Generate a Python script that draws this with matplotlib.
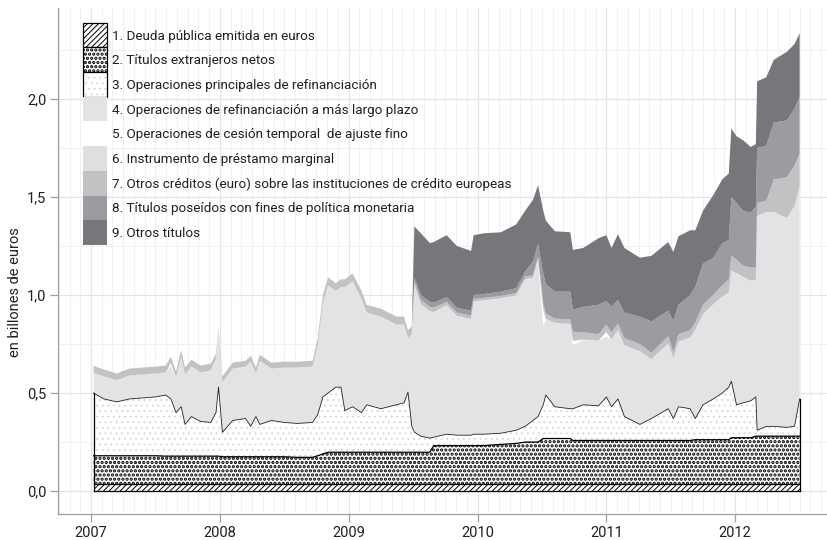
import numpy as np
import matplotlib
matplotlib.use("Agg")
import matplotlib.pyplot as plt
from matplotlib.patches import Rectangle
from matplotlib import font_manager as fm
from matplotlib.ticker import FixedLocator, FuncFormatter

# ---------------- data (billones de euros) ----------------
dates = [
    2007.02, 2007.10, 2007.20, 2007.30, 2007.40, 2007.50, 2007.58, 2007.62, 2007.66, 2007.70,
    2007.73, 2007.78, 2007.85, 2007.93, 2007.97, 2007.99, 2008.02, 2008.10, 2008.20, 2008.24,
    2008.28, 2008.31, 2008.40, 2008.50, 2008.60, 2008.72, 2008.76, 2008.80, 2008.84, 2008.90,
    2008.94, 2008.97, 2009.03, 2009.10, 2009.14, 2009.25, 2009.37, 2009.43, 2009.46, 2009.49,
    2009.51, 2009.56, 2009.63, 2009.66, 2009.76, 2009.84, 2009.95, 2009.97, 2010.05, 2010.18,
    2010.30, 2010.37, 2010.43, 2010.47, 2010.51, 2010.53, 2010.60, 2010.72, 2010.74, 2010.82,
    2010.94, 2011.00, 2011.04, 2011.09, 2011.14, 2011.26, 2011.35, 2011.48, 2011.52, 2011.56,
    2011.65, 2011.69, 2011.75, 2011.83, 2011.90, 2011.95, 2011.97, 2012.01, 2012.06, 2012.12,
    2012.16, 2012.17, 2012.24, 2012.30, 2012.40, 2012.46, 2012.50]

deuda_publica = [
    0.035, 0.035, 0.035, 0.035, 0.035, 0.035, 0.035, 0.035, 0.035, 0.035,
    0.035, 0.035, 0.035, 0.035, 0.035, 0.035, 0.035, 0.035, 0.035, 0.035,
    0.035, 0.035, 0.035, 0.035, 0.035, 0.035, 0.035, 0.035, 0.035, 0.035,
    0.035, 0.035, 0.035, 0.035, 0.035, 0.035, 0.035, 0.035, 0.035, 0.035,
    0.035, 0.035, 0.035, 0.035, 0.035, 0.035, 0.035, 0.035, 0.035, 0.035,
    0.035, 0.035, 0.035, 0.035, 0.035, 0.035, 0.035, 0.035, 0.035, 0.035,
    0.035, 0.035, 0.035, 0.035, 0.035, 0.035, 0.035, 0.035, 0.035, 0.035,
    0.035, 0.035, 0.035, 0.035, 0.035, 0.035, 0.035, 0.035, 0.035, 0.035,
    0.035, 0.035, 0.035, 0.035, 0.035, 0.035, 0.035]

titulos_extranjeros = [
    0.145, 0.145, 0.145, 0.145, 0.145, 0.145, 0.143, 0.143, 0.143, 0.143,
    0.143, 0.143, 0.143, 0.143, 0.143, 0.143, 0.140, 0.140, 0.140, 0.140,
    0.140, 0.140, 0.140, 0.140, 0.137, 0.137, 0.145, 0.155, 0.163, 0.163,
    0.163, 0.163, 0.163, 0.163, 0.163, 0.163, 0.163, 0.163, 0.163, 0.163,
    0.163, 0.163, 0.163, 0.197, 0.197, 0.197, 0.197, 0.197, 0.197, 0.203,
    0.208, 0.215, 0.215, 0.215, 0.233, 0.233, 0.233, 0.233, 0.223, 0.223,
    0.223, 0.223, 0.223, 0.223, 0.223, 0.223, 0.223, 0.223, 0.223, 0.223,
    0.223, 0.227, 0.227, 0.227, 0.227, 0.227, 0.237, 0.237, 0.237, 0.237,
    0.245, 0.245, 0.245, 0.245, 0.245, 0.245, 0.245]

op_principales = [
    0.320, 0.290, 0.275, 0.290, 0.295, 0.300, 0.312, 0.292, 0.222, 0.252,
    0.162, 0.202, 0.177, 0.172, 0.222, 0.352, 0.125, 0.185, 0.195, 0.155,
    0.205, 0.165, 0.185, 0.175, 0.173, 0.178, 0.210, 0.290, 0.302, 0.332,
    0.332, 0.212, 0.232, 0.202, 0.242, 0.222, 0.242, 0.252, 0.307, 0.132,
    0.102, 0.082, 0.072, 0.043, 0.058, 0.053, 0.053, 0.058, 0.058, 0.057,
    0.067, 0.080, 0.110, 0.130, 0.172, 0.222, 0.162, 0.152, 0.162, 0.182,
    0.177, 0.222, 0.172, 0.212, 0.122, 0.082, 0.112, 0.162, 0.112, 0.172,
    0.162, 0.108, 0.178, 0.208, 0.238, 0.268, 0.288, 0.168, 0.178, 0.188,
    0.200, 0.030, 0.050, 0.050, 0.045, 0.050, 0.190]

op_largo_plazo = [
    0.100, 0.112, 0.107, 0.117, 0.117, 0.117, 0.112, 0.170, 0.177, 0.252,
    0.252, 0.252, 0.247, 0.262, 0.272, 0.285, 0.252, 0.262, 0.262, 0.327,
    0.217, 0.322, 0.262, 0.277, 0.282, 0.282, 0.352, 0.477, 0.547, 0.487,
    0.507, 0.627, 0.637, 0.577, 0.467, 0.467, 0.407, 0.397, 0.272, 0.467,
    0.750, 0.670, 0.645, 0.635, 0.655, 0.605, 0.590, 0.675, 0.680, 0.685,
    0.685, 0.747, 0.725, 0.800, 0.400, 0.385, 0.425, 0.430, 0.325, 0.330,
    0.330, 0.310, 0.340, 0.350, 0.360, 0.370, 0.300, 0.330, 0.305, 0.330,
    0.360, 0.450, 0.460, 0.480, 0.490, 0.480, 0.560, 0.670, 0.640, 0.610,
    0.595, 1.090, 1.090, 1.090, 1.065, 1.120, 1.080]

ajuste_fino = [
    0.000, 0.000, 0.000, 0.000, 0.000, 0.000, 0.000, 0.012, 0.000, 0.000,
    0.000, 0.000, 0.000, 0.000, 0.000, 0.000, 0.000, 0.000, 0.000, 0.000,
    0.000, 0.000, 0.000, 0.000, 0.000, 0.000, 0.000, 0.000, 0.000, 0.000,
    0.000, 0.000, 0.000, 0.000, 0.000, 0.000, 0.000, 0.000, 0.000, 0.000,
    0.000, 0.000, 0.000, 0.000, 0.000, 0.000, 0.000, 0.000, 0.000, 0.000,
    0.000, 0.000, 0.000, 0.000, 0.085, 0.000, 0.000, 0.000, 0.020, 0.000,
    0.000, 0.020, 0.000, 0.000, 0.000, 0.000, 0.000, 0.000, 0.000, 0.000,
    0.000, 0.000, 0.000, 0.000, 0.000, 0.000, 0.000, 0.000, 0.000, 0.000,
    0.000, 0.000, 0.000, 0.000, 0.000, 0.000, 0.000]

prestamo_marginal = [
    0.003, 0.003, 0.003, 0.003, 0.003, 0.003, 0.003, 0.003, 0.003, 0.003,
    0.003, 0.003, 0.003, 0.003, 0.003, 0.003, 0.003, 0.003, 0.003, 0.003,
    0.003, 0.003, 0.003, 0.003, 0.003, 0.003, 0.003, 0.003, 0.003, 0.003,
    0.003, 0.003, 0.003, 0.003, 0.003, 0.003, 0.003, 0.003, 0.003, 0.003,
    0.003, 0.003, 0.003, 0.003, 0.003, 0.003, 0.003, 0.003, 0.003, 0.003,
    0.003, 0.003, 0.003, 0.003, 0.003, 0.003, 0.003, 0.003, 0.003, 0.003,
    0.003, 0.003, 0.003, 0.003, 0.003, 0.003, 0.003, 0.003, 0.003, 0.003,
    0.003, 0.003, 0.003, 0.003, 0.003, 0.003, 0.003, 0.003, 0.003, 0.003,
    0.003, 0.003, 0.003, 0.003, 0.003, 0.003, 0.003]

otros_creditos = [
    0.035, 0.035, 0.035, 0.035, 0.035, 0.035, 0.035, 0.030, 0.030, 0.035,
    0.035, 0.035, 0.035, 0.035, 0.025, 0.012, 0.030, 0.030, 0.030, 0.030,
    0.030, 0.030, 0.030, 0.030, 0.030, 0.030, 0.035, 0.040, 0.040, 0.040,
    0.040, 0.040, 0.040, 0.040, 0.040, 0.040, 0.040, 0.040, 0.040, 0.040,
    0.017, 0.022, 0.022, 0.022, 0.017, 0.017, 0.017, 0.012, 0.012, 0.012,
    0.012, 0.015, 0.012, 0.012, 0.032, 0.027, 0.022, 0.022, 0.045, 0.037,
    0.032, 0.037, 0.037, 0.032, 0.037, 0.037, 0.032, 0.037, 0.032, 0.037,
    0.037, 0.037, 0.047, 0.047, 0.057, 0.067, 0.077, 0.067, 0.057, 0.067,
    0.062, 0.067, 0.057, 0.167, 0.207, 0.207, 0.167]

titulos_politica_monetaria = [
    0.000, 0.000, 0.000, 0.000, 0.000, 0.000, 0.000, 0.000, 0.000, 0.000,
    0.000, 0.000, 0.000, 0.000, 0.000, 0.000, 0.000, 0.000, 0.000, 0.000,
    0.000, 0.000, 0.000, 0.000, 0.000, 0.000, 0.000, 0.000, 0.000, 0.000,
    0.000, 0.000, 0.000, 0.000, 0.000, 0.000, 0.000, 0.000, 0.000, 0.000,
    0.020, 0.025, 0.026, 0.025, 0.025, 0.025, 0.025, 0.020, 0.020, 0.022,
    0.025, 0.025, 0.070, 0.065, 0.150, 0.150, 0.137, 0.142, 0.112, 0.130,
    0.150, 0.120, 0.130, 0.120, 0.130, 0.140, 0.160, 0.130, 0.160, 0.150,
    0.180, 0.180, 0.210, 0.190, 0.215, 0.200, 0.300, 0.290, 0.280, 0.280,
    0.310, 0.280, 0.280, 0.290, 0.290, 0.290, 0.290]

otros_titulos = [
    0.000, 0.000, 0.000, 0.000, 0.000, 0.000, 0.000, 0.000, 0.000, 0.000,
    0.000, 0.000, 0.000, 0.000, 0.000, 0.000, 0.000, 0.000, 0.000, 0.000,
    0.000, 0.000, 0.000, 0.000, 0.000, 0.000, 0.000, 0.000, 0.000, 0.000,
    0.000, 0.000, 0.000, 0.000, 0.000, 0.000, 0.000, 0.000, 0.000, 0.000,
    0.260, 0.315, 0.299, 0.310, 0.315, 0.315, 0.305, 0.305, 0.310, 0.303,
    0.325, 0.310, 0.315, 0.300, 0.320, 0.325, 0.308, 0.303, 0.305, 0.300,
    0.340, 0.335, 0.300, 0.335, 0.330, 0.300, 0.335, 0.350, 0.350, 0.350,
    0.330, 0.290, 0.270, 0.320, 0.325, 0.340, 0.350, 0.340, 0.360, 0.335,
    0.320, 0.340, 0.350, 0.320, 0.350, 0.330, 0.325]

labels = [
    "1. Deuda pública emitida en euros",
    "2. Títulos extranjeros netos",
    "3. Operaciones principales de refinanciación",
    "4. Operaciones de refinanciación a más largo plazo",
    "5. Operaciones de cesión temporal  de ajuste fino",
    "6. Instrumento de préstamo marginal",
    "7. Otros créditos (euro) sobre las instituciones de crédito europeas",
    "8. Títulos poseídos con fines de política monetaria",
    "9. Otros títulos",
]
year_ticks = [2007, 2008, 2009, 2010, 2011, 2012]
value_ticks = [0.0, 0.5, 1.0, 1.5, 2.0]
y_label = "en billones de euros"

# ---------------- styling ----------------
names = {f.name for f in fm.fontManager.ttflist}
FONT = "Liberation Sans Narrow" if "Liberation Sans Narrow" in names else "Roboto"
plt.rcParams["font.family"] = [FONT, "DejaVu Sans"]

TXT = "#231f20"
styles = [
    dict(face="white", hatch="//////", hcol="black", hlw=0.7),
    dict(face="white", hatch="....", hcol="black", hlw=1.6),
    dict(face="white", hatch="...", hcol="#d4d4d4", hlw=0.6),
    dict(face="#e2e3e5", hatch=None),
    dict(face="white", hatch=None),
    dict(face="#dedfe1", hatch=None),
    dict(face="#c1c2c4", hatch=None),
    dict(face="#9b9c9f", hatch=None),
    dict(face="#76777b", hatch=None),
]


def set_hlw(artist, lw):
    if hasattr(artist, "set_hatch_linewidth"):
        try:
            artist.set_hatch_linewidth(lw)
        except Exception:
            pass


W, H = 828, 540
fig = plt.figure(figsize=(W / 100, H / 100), dpi=100)
ax = fig.add_axes([58 / W, 1 - 514 / H, (W - 58) / W, (514 - 8) / H])

t = np.array(dates)
series = [deuda_publica, titulos_extranjeros, op_principales, op_largo_plazo,
          ajuste_fino, prestamo_marginal, otros_creditos,
          titulos_politica_monetaria, otros_titulos]
stack = np.cumsum(np.array(series), axis=0)
lower = np.vstack([np.zeros_like(t), stack[:-1]])

for i, st in enumerate(styles):
    if st["hatch"]:
        with plt.rc_context({"hatch.linewidth": st["hlw"]}):
            c = ax.fill_between(t, lower[i], stack[i], facecolor=st["face"],
                                edgecolor=st["hcol"], hatch=st["hatch"], linewidth=0,
                                zorder=2)
        set_hlw(c, st["hlw"])
    else:
        ax.fill_between(t, lower[i], stack[i], facecolor=st["face"],
                        edgecolor="none", linewidth=0, zorder=2)

# outlines of the three lower layers
ax.plot(t, stack[0], color="black", lw=0.9, zorder=3)
ax.plot(t, lower[0], color="black", lw=0.9, zorder=3)
ax.plot(t, stack[1], color="black", lw=0.9, zorder=3)
ax.plot(t, stack[2], color="#222222", lw=0.6, zorder=3)
ax.plot([t[0], t[0]], [0, stack[2][0]], color="black", lw=0.9, zorder=3)
ax.plot([t[-1], t[-1]], [0, stack[2][-1]], color="black", lw=0.9, zorder=3)

# axes
ax.set_xlim(2006.744, 2012.72)
ax.set_ylim(-0.117, 2.464)
ax.xaxis.set_major_locator(FixedLocator(year_ticks))
ax.xaxis.set_minor_locator(FixedLocator(np.arange(2006 + 9 / 12, 2012.73, 1 / 12)))
ax.yaxis.set_major_locator(FixedLocator(value_ticks))
ax.yaxis.set_minor_locator(FixedLocator([0.25, 0.75, 1.25, 1.75, 2.25]))
ax.xaxis.set_major_formatter(FuncFormatter(lambda v, p: f"{int(round(v))}"))
ax.yaxis.set_major_formatter(FuncFormatter(lambda v, p: f"{v:.1f}".replace(".", ",")))
ax.set_axisbelow(True)
ax.grid(which="major", color="#e4e4e4", lw=0.9, zorder=0)
ax.grid(which="minor", color="#f1f1f1", lw=0.8, zorder=0)
for s in ["top", "right"]:
    ax.spines[s].set_visible(False)
for s in ["left", "bottom"]:
    ax.spines[s].set_color("#a0a0a0")
    ax.spines[s].set_linewidth(0.9)
ax.tick_params(which="major", length=5.5, width=0.9, color="#a0a0a0",
               labelsize=10.5, labelcolor=TXT, pad=3)
ax.tick_params(which="minor", length=0)
fig.text(15 / W, 1 - 292 / H, y_label, rotation=90, ha="center", va="center",
         fontsize=10.5, color=TXT)

# legend (manual, contiguous swatches)
row_h = 24.7
top0 = 22.7
for i, (lab, st) in enumerate(zip(labels, styles)):
    y_top = top0 + i * row_h
    kw = dict(transform=fig.transFigure, zorder=10)
    xy = (83 / W, 1 - (y_top + row_h) / H)
    if st["hatch"]:
        with plt.rc_context({"hatch.linewidth": st["hlw"]}):
            r = Rectangle(xy, 24 / W, row_h / H, facecolor=st["face"],
                          edgecolor=st["hcol"], hatch=st["hatch"], linewidth=0, **kw)
        set_hlw(r, st["hlw"])
        fig.add_artist(r)
        fig.add_artist(Rectangle(xy, 24 / W, row_h / H, facecolor="none",
                                 edgecolor="black", linewidth=0.9, **kw))
    else:
        fig.add_artist(Rectangle(xy, 24 / W, row_h / H, facecolor=st["face"],
                                 edgecolor="none", linewidth=0, **kw))
    fig.text(112 / W, 1 - (y_top + row_h / 2 + 1) / H, lab, ha="left", va="center",
             fontsize=9.7, color=TXT, zorder=11)

fig.savefig("out.png", dpi=100)
